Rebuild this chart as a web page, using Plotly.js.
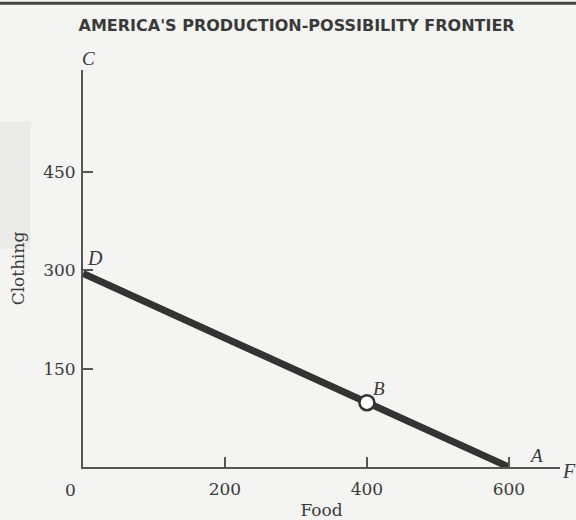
<!DOCTYPE html>
<html>
<head>
<meta charset="utf-8">
<script src="https://cdn.plot.ly/plotly-3.0.1.min.js"></script>
<style>html,body{margin:0;padding:0;background:#f4f4f2;}</style>
</head>
<body>
<div id="chart" style="width:576px;height:520px;"></div>
<script>
// Data
const food = [0, 400, 600];
const clothing = [295, 98, 0];
const pointLabels = ["D", "B", "A"];
const pointB = {x: [400], y: [98]};
const xTickVals = [200, 400, 600];
const yTickVals = [150, 300, 450];
const axisLetters = {x: "F", y: "C"};

const serif = "DejaVu Serif, Liberation Serif, serif";
const iserif = "Liberation Serif, Times New Roman, serif";
const ink = "#3a3a3a";

const traces = [
  {
    x: food, y: clothing, type: "scatter", mode: "lines",
    line: {color: "#333333", width: 7},
    hoverinfo: "skip", showlegend: false
  },
  {
    x: pointB.x, y: pointB.y, type: "scatter", mode: "markers",
    marker: {size: 15, color: "#ffffff", line: {color: "#333333", width: 2.5}},
    showlegend: false
  }
];

const annotations = [
  {x: food[0], y: clothing[0], text: "<i>" + pointLabels[0] + "</i>", showarrow: false, xanchor: "left", yanchor: "bottom", xshift: 2, yshift: 2, font: {family: iserif, size: 20, color: ink}},
  {x: food[1], y: clothing[1], text: "<i>" + pointLabels[1] + "</i>", showarrow: false, xanchor: "left", yanchor: "bottom", xshift: 4, yshift: 2, font: {family: iserif, size: 19, color: ink}},
  {x: food[2], y: clothing[2], text: "<i>" + pointLabels[2] + "</i>", showarrow: false, xanchor: "left", yanchor: "bottom", xshift: 18, yshift: -1, font: {family: iserif, size: 19, color: ink}},
  {x: 1, xref: "paper", y: 0, yref: "y", text: "<i>" + axisLetters.x + "</i>", showarrow: false, xanchor: "left", yanchor: "middle", xshift: 0, yshift: -4, font: {family: iserif, size: 20, color: ink}},
  {x: 0, xref: "x", y: 1, yref: "paper", text: "<i>" + axisLetters.y + "</i>", showarrow: false, xanchor: "center", yanchor: "bottom", xshift: 5, yshift: -1, font: {family: iserif, size: 19, color: ink}},
  {x: 0, xref: "x", y: 0, yref: "y", text: "0", showarrow: false, xanchor: "center", yanchor: "top", xshift: -13, yshift: -11, font: {family: serif, size: 17, color: ink}}
];

const layout = {
  width: 576, height: 520,
  paper_bgcolor: "#f4f4f2", plot_bgcolor: "#f4f4f2",
  margin: {l: 83, r: 16, t: 70, b: 53},
  title: {
    text: "<b>AMERICA'S PRODUCTION-POSSIBILITY FRONTIER</b>",
    x: 0.515, xanchor: "center", y: 0.952, yanchor: "middle",
    font: {family: "DejaVu Sans, Liberation Sans, sans-serif", size: 16, color: "#3a3a3a"}
  },
  xaxis: {
    range: [0, 672], showgrid: false, zeroline: false,
    showline: true, linecolor: "#555555", linewidth: 2,
    tickmode: "array", tickvals: xTickVals, ticktext: xTickVals.map(String),
    ticks: "inside", ticklen: 10, tickwidth: 2, tickcolor: "#555555",
    ticklabelstandoff: 6,
    tickfont: {family: serif, size: 17, color: ink},
    title: {text: "Food", font: {family: serif, size: 17, color: ink}, standoff: 6},
    fixedrange: true
  },
  yaxis: {
    range: [0, 605], showgrid: false, zeroline: false,
    showline: true, linecolor: "#555555", linewidth: 2,
    tickmode: "array", tickvals: yTickVals, ticktext: yTickVals.map(String),
    ticks: "inside", ticklen: 10, tickwidth: 2, tickcolor: "#555555",
    ticklabelstandoff: 2,
    tickfont: {family: serif, size: 17, color: ink},
    title: {text: "Clothing", font: {family: serif, size: 17, color: ink}, standoff: 14},
    fixedrange: true
  },
  shapes: [
    {type: "line", xref: "paper", yref: "paper", x0: -0.2, x1: 1.05, y0: 1.168, y1: 1.168, line: {color: "#444444", width: 3}, layer: "above"},
    {type: "rect", xref: "paper", yref: "paper", x0: -0.18, x1: -0.11, y0: 0.55, y1: 0.87, fillcolor: "#eaeae8", line: {width: 0}, layer: "below"}
  ],
  annotations: annotations,
  showlegend: false
};

Plotly.newPlot("chart", traces, layout, {displayModeBar: false, staticPlot: true});
</script>
</body>
</html>
